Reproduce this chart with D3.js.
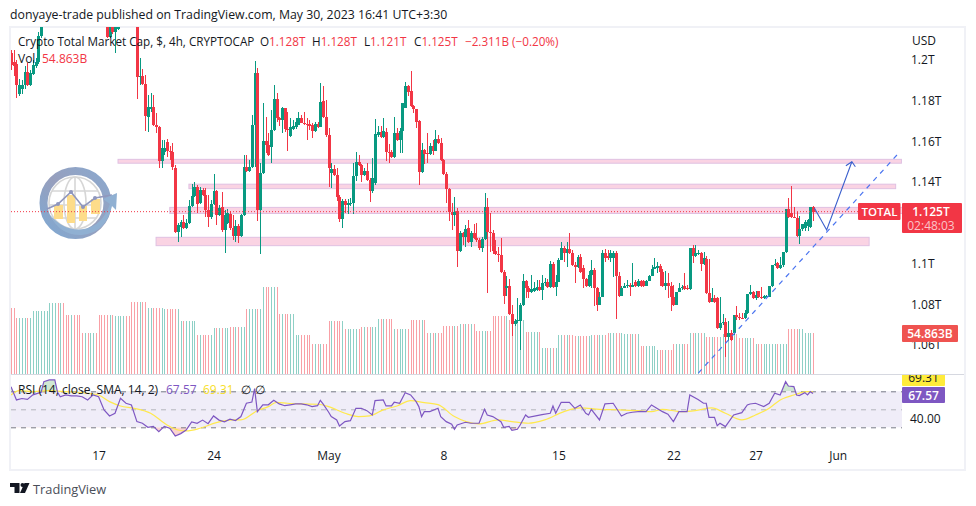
<!DOCTYPE html>
<html><head><meta charset="utf-8">
<script src="https://cdn.jsdelivr.net/npm/d3@7"></script>
<style>
html,body{margin:0;padding:0;background:#fff}
svg{display:block}
text{font-family:"Open Sans",sans-serif;font-size:12px;fill:#131722}
</style></head><body>
<svg id="c" width="976" height="506"></svg>
<script>
// Prices in billions of USD, one entry per 4h bar
const opens=[1203.5,1199,1198,1183.3,1185.7,1187.7,1194,1187.7,1193,1197,1199,1211.8,1218,1222,1226,1230,1234,1238,1236,1240,1238,1235,1232,1236,1233,1230,1227,1225,1228,1226,1229,1231,1229,1227,1224,1221,1211.3,1217,1213.8,1215.3,1219,1222,1225,1222,1220,1219.5,1219,
1191.7,1192,1188,1172,1175.9,1176.7,1168.1,1167.1,1150.4,1154.8,1159.7,1155.3,1154.8,1146.9,1115.5,1118,1120.4,1117.5,1119.9,1128.3,1133.2,1137.6,1130,1136,1133.7,1126.3,1122.9,1129.3,1135.6,1123.8,1127.8,1116.5,1119.9,1124.3,1117.5,1113.5,1118.4,1113.5,1123.8,1147.4,1145.5,1147.4,1168.1,1193.6,1126.3,1144.5,1160.2,1158.2,1157.3,1165.6,1180.8,1171.5,1170.5,1176.4,1166.1,1162.7,1166,1167.1,1168.1,1171.5,1169.2,1168.8,1168.4,1168.1,1165.1,1168.6,1167.1,1179.9,1172,1163.2,
1144.5,1146.4,1143.5,1132.7,1121.9,1130.7,1128.8,1129.3,1129.7,1143,1149.9,1148.4,1143.5,1145.5,1141,1135.6,1139.6,1163.2,1164.6,1162.2,1164.6,1155,1155,1152.4,1164.1,1160.7,1165.1,1176.4,1187,1184.8,1177.4,1175.9,1170,1145,1155.8,1154.3,1153.8,1157.8,1155.3,1161.2,1159.2,1150.9,1144,1136.6,1125.3,1123.8,1125.8,1106.2,1115,1113,1117.5,1110.6,1115,1112.5,1111.6,1107.6,1112,1127.8,1115.5,1115.2,1106.2,1104.7,1104.2,1095.8,1088,1089,1075,1070.3,1071.8,1072,1079.6,1091.4,1088,1086,1086.5,1087,1088.5,1087,1090.4,1091,1088.5,1099.8,1088.5,1090.9,1101.7,1107.6,1105.2,1107.1,1105.2,1099.3,1098.3,1103.2,1098,1092.4,1089,1094.4,1096.8,1088,1079.6,1083.5,1105.2,1103.7,1102.7,1102.7,1105.2,1093.9,1084,1088,1088.8,1089.5,1088.5,1090.9,1089,1091.4,1091.4,1089,1091.4,1093.9,1097.3,1098,1098.8,
1095.8,1089,1090.4,1089,1083.5,1079.6,1086,1088,1089,1088,1087.5,1107.6,1103.7,1104.7,1105.2,1099.8,1102.2,1085.5,1081,1083,1083,1068.3,1070.8,1071.5,1063.9,1065.9,1065.9,1074.7,1073.7,1073.5,1073.3,1075.7,1085,1086,1083,1086.5,1083.5,1083,1083.5,1083.5,1089,1099.3,1100.3,1097.8,1099.3,1105.7,1126.8,1124.8,1122.9,1122.4,1113.5,1117,1117.5,1118.4,1118,1128];
const highs=[1205,1205,1200,1190.5,1190,1197,1198.5,1195,1200,1201,1214,1224,1225,1229,1232,1236,1240,1240,1243,1241,1239,1236,1238,1237,1234,1231,1228,1230,1229,1231,1233,1232,1230,1228,1225,1222,1218,1219,1221,1221,1224,1227,1226,1223,1221,1221,1221,
1201,1195.5,1192.6,1182.8,1183.8,1182.8,1174,1167.6,1160.7,1160.7,1161.2,1158,1159.2,1148.4,1119.9,1121.4,1123.8,1121.9,1131.2,1139,1140,1138.6,1137.6,1137,1137,1133.7,1131.2,1144,1136,1128.8,1135,1126.3,1126.8,1125.8,1123.8,1121.4,1119.4,1124.3,1153.3,1153.3,1150.9,1173,1199.5,1196,1149.4,1178.9,1172,1164.1,1175.4,1187.7,1183.8,1172,1177,1176,1174.5,1171.5,1170.5,1171.5,1174.5,1173,1174.5,1171.5,1170.5,1169,1169.6,1169.6,1188.7,1187,1180.4,1166.6,
1149.4,1148.4,1146.9,1133.7,1131.7,1131.7,1131.7,1132.2,1149.4,1154.8,1153.3,1149,1146.9,1149.4,1142,1151.9,1171,1167.6,1167.6,1171.5,1166.6,1158.7,1155.8,1172,1166.6,1166.6,1178.9,1189,1187.7,1194.6,1178,1176,1170.5,1159.2,1156.3,1164.1,1159.2,1160.7,1165.6,1163.2,1161.7,1151.4,1145,1137,1129.7,1132.7,1127.3,1116,1115.5,1119,1121.4,1116,1119.4,1119.9,1112.5,1113,1134.7,1132.2,1124.8,1116.5,1111.6,1108,1112.5,1096.8,1094,1092.4,1079.6,1073,1083,1080.6,1094.9,1092,1089,1094.4,1091,1092,1092,1094.4,1093,1092.4,1101.2,1100.8,1094.4,1102.7,1110.6,1108.6,1110.6,1115,1106.7,1100.8,1104.2,1104.7,1099.3,1092.9,1096.3,1101.7,1097.8,1088.5,1086,1106.7,1107,1106.7,1106.7,1106.2,1106.2,1096,1088.9,1090.4,1092,1090.4,1100.3,1092,1092.4,1092,1092,1092,1094.4,1099.3,1102.7,1100.8,1099.8,
1097.3,1096.3,1095.4,1091,1089.5,1084,1090.4,1089.5,1095.4,1089.5,1089.9,1109.1,1109.1,1106.7,1105.7,1105.7,1103.7,1102.2,1088,1084.5,1083.5,1083.5,1075,1073.3,1071.8,1067.4,1066.4,1079,1075.7,1075.7,1077,1076.7,1089.5,1086.5,1086.5,1084.8,1088.5,1084.5,1084.5,1085,1089.5,1102.2,1100.8,1103.2,1100.3,1111.6,1132.2,1138,1127.8,1125.3,1123.4,1119.4,1121.4,1122,1124.8,1128.3,1128];
const lows=[1195,1192,1181.3,1182.3,1183.3,1186,1187,1187,1192.5,1196,1198,1211,1217,1221,1225,1228,1233,1234,1235,1236,1233,1230,1231,1231,1228,1225,1223,1224,1224,1225,1228,1227,1225,1222,1219,1211,1211,1213,1203.5,1214.5,1218,1221,1221,1219,1218,1218,1180.8,
1187.7,1187.5,1165.1,1164.6,1174.5,1167.8,1164,1146.9,1146.9,1153.3,1152.4,1151,1146,1115,1110.6,1113,1117,1117,1119.4,1127.8,1132.7,1124.8,1129.3,1133.2,1122.9,1118,1121.9,1128.8,1118.9,1123.4,1115.5,1105.2,1119.4,1116.5,1111.6,1110.6,1110.1,1113,1123.4,1145,1145,1146.9,1147.4,1120.9,1104.7,1144,1154.3,1153,1149.4,1165,1169.5,1167.6,1164,1164.6,1155.3,1162.2,1165.6,1166.1,1168.1,1169,1167.9,1160.7,1165.6,1161.7,1164.6,1166.6,1167.1,1171.5,1162.2,1137.6,
1137,1143,1130.7,1120.4,1117.5,1124.8,1124.3,1128.3,1124.3,1140.5,1147.9,1140,1143,1140.5,1130.2,1134.6,1138.6,1162.2,1161.7,1161.7,1150.4,1149.4,1151.9,1152,1160.2,1154.3,1154.3,1176.4,1182.3,1176.9,1174,1166.6,1138.6,1144.5,1148.9,1149.4,1153.3,1153.3,1155.3,1158.7,1150.4,1143.5,1129.7,1120.9,1116.5,1118.4,1098.3,1105.7,1109.1,1108,1110.1,1108,1112,1110.6,1106.7,1105.7,1111.6,1085.5,1105.7,1104.7,1104.2,1100.8,1095.3,1080,1084,1074.7,1064.4,1069.3,1071,1057.5,1079,1083,1083,1085.5,1086,1086.5,1086.5,1082,1089,1088,1088,1088,1084,1100.8,1104.7,1100.8,1098.3,1104.7,1098.8,1090.4,1097.8,1095.3,1088,1088.5,1088.5,1088,1079,1076.7,1083,1102.2,1100.8,1101.7,1100.8,1093.4,1073,1083.5,1087,1088,1088,1084,1088.5,1088.5,1088.5,1088.5,1088.5,1090.4,1093.4,1096.8,1097.3,1095.3,
1089,1088.5,1087,1083,1076.7,1079,1085.5,1087,1087,1087,1087,1087,1100.3,1103,1104.2,1096.3,1099.3,1085,1080.5,1081,1080.5,1067.8,1067.3,1069.8,1054,1061.9,1062,1064.9,1072.3,1072.3,1073,1073,1075.2,1084.5,1082.6,1082,1083,1082.6,1082.6,1083.5,1083.5,1088.5,1099,1097.3,1097.3,1098.3,1105.2,1122.4,1122.4,1122.4,1113,1109.6,1116,1116,1116,1117.5,1121];
const closes=[1197.6,1197,1187.7,1187.7,1187.7,1194,1187.7,1193.6,1197.6,1199,1211.8,1218,1222,1226,1230,1234,1238,1236,1240,1238,1235,1232,1236,1233,1230,1227,1225,1228,1226,1229,1231,1229,1227,1224,1221,1211.3,1217,1213.8,1218,1219,1222,1225,1222,1220,1219.5,1219,1191.7,
1192,1188,1172.5,1176.9,1176.7,1168.1,1167.1,1150.4,1156.8,1156.8,1155.3,1154.8,1147.4,1115.5,1118.9,1120.4,1117.5,1119.9,1128.3,1133.2,1137.6,1129.3,1136,1133.7,1126.3,1122.9,1129.3,1135.6,1123.8,1127.3,1116.5,1123.8,1124.8,1117.5,1113.5,1118.4,1113.5,1123.8,1147.4,1145.5,1147.4,1168.1,1193.6,1126.3,1144.5,1160.2,1158.2,1153.3,1165.6,1180.8,1171.5,1170.5,1176.4,1166.1,1165.6,1167.1,1167.6,1169.5,1171.5,1169,1168.6,1168.1,1167.6,1165.1,1168.6,1167.1,1179.4,1172,1163.2,1146.9,
1146.4,1143.5,1132.7,1121.9,1130.7,1128.8,1129.7,1129.9,1143,1149.9,1148.4,1143.5,1145.5,1141,1135.6,1142,1163.6,1164.6,1162.2,1165.1,1154.8,1154.5,1152.4,1164.1,1160.7,1165.1,1178.9,1187,1184.3,1177.4,1175.9,1169.5,1145,1155.8,1153.8,1153.8,1157.8,1155.3,1161.2,1159.2,1150.9,1144,1136.6,1125.3,1123.8,1125.3,1106.2,1115,1113,1117,1110.6,1115,1112.5,1111.6,1107.6,1112,1127.8,1115.5,1115.2,1106.2,1104.7,1104.2,1095.8,1084,1089,1075,1070.3,1072,1072.4,1079.6,1091.4,1088,1086,1087.5,1088,1088.5,1087,1090.4,1090.9,1088.5,1099.8,1088.5,1090.9,1101.7,1107.6,1105.2,1107.1,1105.2,1099.3,1098.3,1103.2,1095.8,1092.4,1089,1094.4,1096.8,1088,1079.6,1083.5,1105.2,1102.7,1102.7,1105.2,1105.2,1093.9,1084,1088,1089,1089.5,1088.5,1089.5,1089,1091.4,1089,1089,1091.4,1093.9,1097.3,1098.3,1098.8,
1095.8,1089,1090.4,1089,1083.5,1079.6,1086,1088,1088.6,1087.5,1087.5,1107.6,1103.7,1105.2,1105.2,1099.8,1102.7,1085.5,1081,1083,1081,1068.3,1070.8,1071.5,1063.9,1065.9,1062.4,1074.7,1073.7,1073.3,1073.3,1075.7,1085,1086,1083,1084.5,1083.5,1083,1084,1084,1089,1099.3,1099.8,1097.8,1099.3,1105.7,1126.8,1122.9,1122.9,1122.4,1113.5,1117,1119.5,1120.4,1121.4,1127.8,1125.5];
// Volume in billions, one reading for each calendar-day group of bars
const dayVolumes=[88.3,74.9,84.3,95,78.9,54.9,78.9,77.6,96.3,88.3,87,70.9,52.2,61.5,62.9,87,116.4,80.3,52.2,40.1,70.9,60.2,62.9,73.6,60.2,72.3,54.9,64.2,66.9,57.5,77.6,72.3,56.2,34.8,52.2,50.8,52.2,54.9,53.5,37.5,32.1,40.1,54.9,49.5,53.5,48.2,40.1,40.1,60.2,54.863];
// RSI vertices: bar index and value
const rsiBars=[0,2,4,6,8,10,11,12,14,16,17,18,20,22,24,26,28,30,32,34,36,38,40,42,44,46,48,50,52,54,56,58,60,62,64,66,68,70,72,74,76,78,80,82,84,86,88,89,90,92,94,96,98,100,102,104,106,108,110,112,113,114,116,117,119,120,122,124,126,128,130,132,133,136,137,139,140,142,144,146,148,149,150,151,153,156,157,159,161,162,163,166,168,171,173,174,176,178,179,180,182,183,185,186,188,189,194,197,198,199,201,203,204,206,208,210,211,212,215,217,220,223,225,227,230,232,234,238,240,242,244,247,248,251,253,254,255,257,258,259,261,264,267,269,270,272,275,277,279,281,283,284,286,287,288,290,291,292,293];
const rsiValues=[75,60.4,62,61,66,68,69,80.7,82.6,82.6,69,64,66,65,65,64,60.4,66,64,49.3,42.6,45.6,62.2,56.7,54.8,36.3,34.5,30,31,25.2,31,29,20.4,23,27,36,34.5,38,34,42.6,38,36,39,37.5,42,56.7,58,73,47.4,55,55,60,56,54,55,56,56,55,53,54,60,56,47,41.9,38.2,31.5,36.3,37.4,51.1,51.1,48.5,43.7,59.6,60.4,53.7,53.7,57.8,56.7,68.5,65.9,58.5,53,41.9,47.4,47.4,51.1,41.9,36.3,33.4,27.8,32.6,35.6,34.5,34.5,50,43.7,41.9,38.2,36.3,30,31,26.7,27.8,32.6,43.7,41.1,44.1,45.6,53.7,45.6,57.8,57.8,57.8,51.1,54.8,45.6,43.7,50,38.2,56,56.7,42.6,45.6,46.7,47.8,47.4,54.8,47.4,44.5,36.3,47.4,47.4,65.9,61,56.7,56.7,41.1,41.1,31.9,34.5,30.8,43.7,46.3,54.8,55.9,56.7,53,56.7,67.8,65.9,80.7,75.9,75.2,65.9,65.2,68.5,65.9,69.6,67.57];
const rsiSmaBars=[0,3,8,14,20,28,32,36,40,45,51,57,61,64,69,75,81,84,90,94,97,101,106,112,116,122,127,131,136,141,146,151,156,162,171,178,183,189,195,202,208,215,222,229,234,238,245,250,256,261,267,272,277,281,286,291,293];
const rsiSmaValues=[65.9,70.7,69.6,70.7,69.6,67.8,65.9,58.5,53.7,51.1,45.6,32.6,27,26,28.9,35.2,38.2,38.2,48.5,53,57.8,56.7,56,55.6,53,45.6,41.9,42.6,49.3,53.7,59.6,57.4,55.2,41.9,33.8,38.2,36.3,34.5,38.2,47.4,51.5,50,49.3,48.5,47.4,50,47.4,48.5,51.5,45.6,38.2,43.7,51.1,60.4,65.9,69.6,69.31];
const priceTicks=[1200,1180,1160,1140,1100,1080,1060];
const rsiTicks=[40];
const dateBars=[32,74,116,158,200,242,272,302];
const dateLabels=["17","24","May","8","15","22","27","Jun"];
// Horizontal zones: start bar, end bar, upper price, lower price
const zoneStart=[39.1,65,58,53];
const zoneEnd=[325.3,323.2,340,313.5];
const zoneUpper=[1151.2,1139,1127.6,1112.9];
const zoneLower=[1149.3,1136.8,1124.6,1108.8];
// Drawn annotations
const trendBars=[251.1,324.8];
const trendPrices=[1046.2,1155];
const pathBars=[293.5,298,307.2];
const pathPrices=[1127.3,1116.5,1150];

const svg=d3.select("#c");
const x=d3.scaleLinear().domain([0,293]).range([11,813]);
const y=d3.scaleLinear().domain([1060,1200]).range([345,60]);
const yVol=d3.scaleLinear().domain([0,54.863]).range([374,333]);
const yRsi=d3.scaleLinear().domain([30,70]).range([427.3,391.3]);
const bars=d3.range(opens.length);
const RED="#f23645",GREEN="#089981";
const isUp=i=>closes[i]>=opens[i];

// frame
svg.append("rect").attr("x",10).attr("y",27).attr("width",955).attr("height",443)
  .attr("fill","#fff").attr("stroke","#f0f1f6").attr("stroke-width",2);
svg.append("line").attr("x1",11).attr("x2",964).attr("y1",374.5).attr("y2",374.5).attr("stroke","#d6d8e0");

const defs=svg.append("defs");
defs.append("clipPath").attr("id","main").append("rect").attr("x",11).attr("y",27).attr("width",891).attr("height",347);
defs.append("clipPath").attr("id","rsi").append("rect").attr("x",11).attr("y",375).attr("width",891).attr("height",90);
defs.append("clipPath").attr("id","rsiTop").append("rect").attr("x",11).attr("y",375).attr("width",891).attr("height",yRsi(70)-375);
defs.append("clipPath").attr("id","rsiBot").append("rect").attr("x",11).attr("y",yRsi(30)).attr("width",891).attr("height",40);
defs.append("clipPath").attr("id","rsiLbl").append("rect").attr("x",902).attr("y",375).attr("width",60).attr("height",30);
const grad=defs.append("linearGradient").attr("id","ring").attr("x1","0").attr("y1","1").attr("x2","1").attr("y2","0");
grad.append("stop").attr("offset","0").attr("stop-color","#7fa9d3");
grad.append("stop").attr("offset","0.5").attr("stop-color","#979fbd");
grad.append("stop").attr("offset","1").attr("stop-color","#8aa9cf");

const main=svg.append("g").attr("clip-path","url(#main)");

// logo
const logo=main.append("g");
logo.append("circle").attr("cx",75.5).attr("cy",203).attr("r",32).attr("fill","none").attr("stroke","url(#ring)").attr("stroke-width",8);
const globe=logo.append("g").attr("fill","none").attr("stroke","#d6d6d6").attr("stroke-width",1.6);
globe.append("circle").attr("cx",75).attr("cy",203).attr("r",26);
globe.append("ellipse").attr("cx",75).attr("cy",203).attr("rx",11).attr("ry",26);
globe.append("path").attr("d","M75 177V229M52 191H98M49 205H101M53 218H97");
logo.append("g").attr("fill","#fddc8a").selectAll("rect").data([[54,205,9,14],[67,195,8,28],[79,206,8,15],[91,199,9,15]])
  .join("rect").attr("x",d=>d[0]).attr("y",d=>d[1]).attr("width",d=>d[2]).attr("height",d=>d[3]);
logo.append("path").attr("d","M47 209L58 204L71 192L83 207L95 198L112 195").attr("fill","none").attr("stroke","#9097bd").attr("stroke-width",1.6);
logo.selectAll("circle.n").data([[58,204],[71,192],[83,207],[95,198]]).join("circle").attr("cx",d=>d[0]).attr("cy",d=>d[1]).attr("r",2).attr("fill","#8e96bd");
logo.append("path").attr("d","M50 215Q65 232 84 229Q102 226 110 204L103 199L117 193L116 210L112 206Q106 233 82 235Q60 236 50 215Z").attr("fill","#90b0d2");

// zones
main.append("g").selectAll("rect").data(d3.range(zoneStart.length)).join("rect")
  .attr("x",i=>x(zoneStart[i])).attr("width",i=>x(zoneEnd[i])-x(zoneStart[i]))
  .attr("y",i=>y(zoneUpper[i])).attr("height",i=>y(zoneLower[i])-y(zoneUpper[i]))
  .attr("fill","#fad3e3").attr("stroke","#dfc0e2").attr("stroke-width",1);

// volume
main.append("g").attr("shape-rendering","crispEdges").selectAll("rect").data(bars).join("rect")
  .attr("x",i=>Math.round(x(i))).attr("width",1)
  .attr("y",i=>yVol(dayVolumes[i<2?0:Math.floor((i-2)/6)+1]))
  .attr("height",i=>374-yVol(dayVolumes[i<2?0:Math.floor((i-2)/6)+1]))
  .attr("fill",i=>isUp(i)?"#8ed0c6":"#f9a0a6");

// candles
const cand=main.append("g").attr("shape-rendering","crispEdges");
cand.selectAll("line").data(bars).join("line")
  .attr("x1",i=>Math.round(x(i))+.5).attr("x2",i=>Math.round(x(i))+.5)
  .attr("y1",i=>y(highs[i])).attr("y2",i=>y(lows[i]))
  .attr("stroke",i=>isUp(i)?GREEN:RED);
cand.selectAll("rect").data(bars).join("rect")
  .attr("x",i=>Math.round(x(i))-1).attr("width",3)
  .attr("y",i=>y(Math.max(opens[i],closes[i])))
  .attr("height",i=>Math.max(1,Math.abs(y(opens[i])-y(closes[i]))))
  .attr("fill",i=>isUp(i)?GREEN:RED);

// last price line
main.append("line").attr("x1",11).attr("x2",902).attr("y1",y(closes[293])).attr("y2",y(closes[293]))
  .attr("stroke",RED).attr("stroke-dasharray","1 2").attr("stroke-width",1);

// trend + path
main.append("line").attr("x1",x(trendBars[0])).attr("x2",x(trendBars[1]))
  .attr("y1",y(trendPrices[0])).attr("y2",y(trendPrices[1]))
  .attr("stroke","#4a74f0").attr("stroke-dasharray","5 5").attr("stroke-width",1.2);
const pathLine=d3.line().x(i=>x(pathBars[i])).y(i=>y(pathPrices[i]));
main.append("path").attr("d",pathLine([0,1,2])).attr("fill","none").attr("stroke","#3a5fcd").attr("stroke-width",1.1);
const hx=x(pathBars[2]),hy=y(pathPrices[2]);
main.append("path").attr("d",`M${hx-6} ${hy+4}L${hx} ${hy}L${hx+3.5} ${hy+5}`).attr("fill","none").attr("stroke","#3a5fcd").attr("stroke-width",1.1);

// price axis
const axR=d3.axisRight(y).tickValues(priceTicks).tickSize(0).tickPadding(0).tickFormat(v=>(v/1000)+"T");
const gp=svg.append("g").attr("transform","translate(911,0)").call(axR);
gp.select(".domain").remove();
gp.selectAll("text").attr("fill","#131722").style("font-size","12px");
svg.append("text").attr("x",912).attr("y",44.5).text("USD");

// volume label
svg.append("rect").attr("x",902).attr("y",325).attr("width",56).attr("height",17).attr("rx",1).attr("fill","#ef5350");
svg.append("text").attr("x",930).attr("y",338).attr("text-anchor","middle").style("fill","#fff").style("font-weight",600).text("54.863B");

// price labels
svg.append("rect").attr("x",858).attr("y",203).attr("width",42.5).attr("height",17).attr("rx",1).attr("fill",RED);
svg.append("text").attr("x",879.5).attr("y",216).attr("text-anchor","middle").style("fill","#fff").style("font-weight",600).style("font-size","11.5px").text("TOTAL");
svg.append("rect").attr("x",902).attr("y",203).attr("width",60).attr("height",30).attr("rx",1).attr("fill",RED);
svg.append("text").attr("x",931).attr("y",215.5).attr("text-anchor","middle").style("fill","#fff").style("font-weight",600).text("1.125T");
svg.append("text").attr("x",931).attr("y",230).attr("text-anchor","middle").style("fill","#fbc4c9").text("02:48:03");

// RSI pane
const rsiG=svg.append("g").attr("clip-path","url(#rsi)");
rsiG.append("rect").attr("x",11).attr("width",891).attr("y",yRsi(70)).attr("height",yRsi(30)-yRsi(70)).attr("fill","#f0edf8");
const rIdx=d3.range(rsiBars.length);
const rArea=d3.area().x(i=>x(rsiBars[i])).y1(i=>yRsi(rsiValues[i]));
rsiG.append("path").attr("clip-path","url(#rsiTop)").attr("d",rArea.y0(yRsi(70))(rIdx)).attr("fill","#cfe8d2");
rsiG.append("path").attr("clip-path","url(#rsiBot)").attr("d",rArea.y0(yRsi(30))(rIdx)).attr("fill","#fbd3d0");
[[70,"#787b86"],[50,"#b4b6bd"],[30,"#787b86"]].forEach(([v,c])=>{
  rsiG.append("line").attr("x1",11).attr("x2",902).attr("y1",yRsi(v)+.5).attr("y2",yRsi(v)+.5).attr("stroke",c).attr("stroke-dasharray","5 5").attr("stroke-width",1);
});
rsiG.append("path").attr("d",d3.line().x(i=>x(rsiSmaBars[i])).y(i=>yRsi(rsiSmaValues[i])).curve(d3.curveMonotoneX)(d3.range(rsiSmaBars.length)))
  .attr("fill","none").attr("stroke","#ffe94d").attr("stroke-width",1.2);
rsiG.append("path").attr("d",d3.line().x(i=>x(rsiBars[i])).y(i=>yRsi(rsiValues[i]))(rIdx))
  .attr("fill","none").attr("stroke","#7e57c2").attr("stroke-width",1.2);
const gr=svg.append("g").attr("transform","translate(910,0)").call(d3.axisRight(yRsi).tickValues(rsiTicks).tickSize(0).tickPadding(0).tickFormat(d3.format(".2f")));
gr.select(".domain").remove();
gr.selectAll("text").attr("fill","#131722").style("font-size","12px");
const lblG=svg.append("g").attr("clip-path","url(#rsiLbl)");
lblG.append("rect").attr("x",902).attr("y",369).attr("width",43).attr("height",17).attr("rx",1).attr("fill","#ffeb3b");
lblG.append("text").attr("x",923.5).attr("y",382).attr("text-anchor","middle").style("fill","#131722").text("69.31");
svg.append("rect").attr("x",902).attr("y",387).attr("width",43).attr("height",16).attr("rx",1).attr("fill","#7e57c2");
svg.append("text").attr("x",923.5).attr("y",399.5).attr("text-anchor","middle").style("fill","#fff").style("font-weight",600).text("67.57");

// time axis
const axB=d3.axisBottom(x).tickValues(dateBars).tickSize(0).tickPadding(0).tickFormat((d,i)=>dateLabels[i]);
const gt=svg.append("g").attr("transform","translate(0,451)").call(axB);
gt.select(".domain").remove();
gt.selectAll("text").attr("fill","#131722").style("font-size","12px");

// header + legends
svg.append("text").attr("x",10).attr("y",19).style("font-size","12.3px").text("donyaye-trade published on TradingView.com, May 30, 2023 16:41 UTC+3:30");
svg.append("text").attr("x",18).attr("y",46).style("font-size","11.7px").text("Crypto Total Market Cap, $, 4h, CRYPTOCAP");
const vals=[["O","1.128T",260],["H","1.128T",312],["L","1.121T",364],["C","1.125T",414]];
vals.forEach(([k,v,px])=>{
  const t=svg.append("text").attr("x",px).attr("y",46).style("font-size","11.7px");
  t.append("tspan").text(k);
  t.append("tspan").style("fill",RED).text(v);
});
svg.append("text").attr("x",465).attr("y",46).style("fill",RED).style("font-size","11.7px").text("−2.311B (−0.20%)");
svg.append("text").attr("x",18).attr("y",63).text("Vol");
svg.append("text").attr("x",42).attr("y",63).style("fill",RED).text("54.863B");
const rl=[["RSI (14, close, SMA, 14, 2)",18,"#131722"],["67.57",166,"#7e57c2"],["69.31",203,"#f7e02a"],["∅",241,"#131722"],["∅",255,"#131722"]];
rl.forEach(([s,px,c])=>svg.append("text").attr("x",px).attr("y",394).style("fill",c).text(s));

// footer brand
const tv=svg.append("g").attr("fill","#131722");
tv.append("path").attr("d","M10 483H19.5V493H14.5V487H10Z");
tv.append("circle").attr("cx",22.5).attr("cy",485).attr("r",2);
tv.append("path").attr("d","M24.5 483H29.5L25 493H20Z");
svg.append("text").attr("x",33).attr("y",494).style("fill","#4a4e59").style("font-size","12.8px").text("TradingView");
</script>
</body></html>
